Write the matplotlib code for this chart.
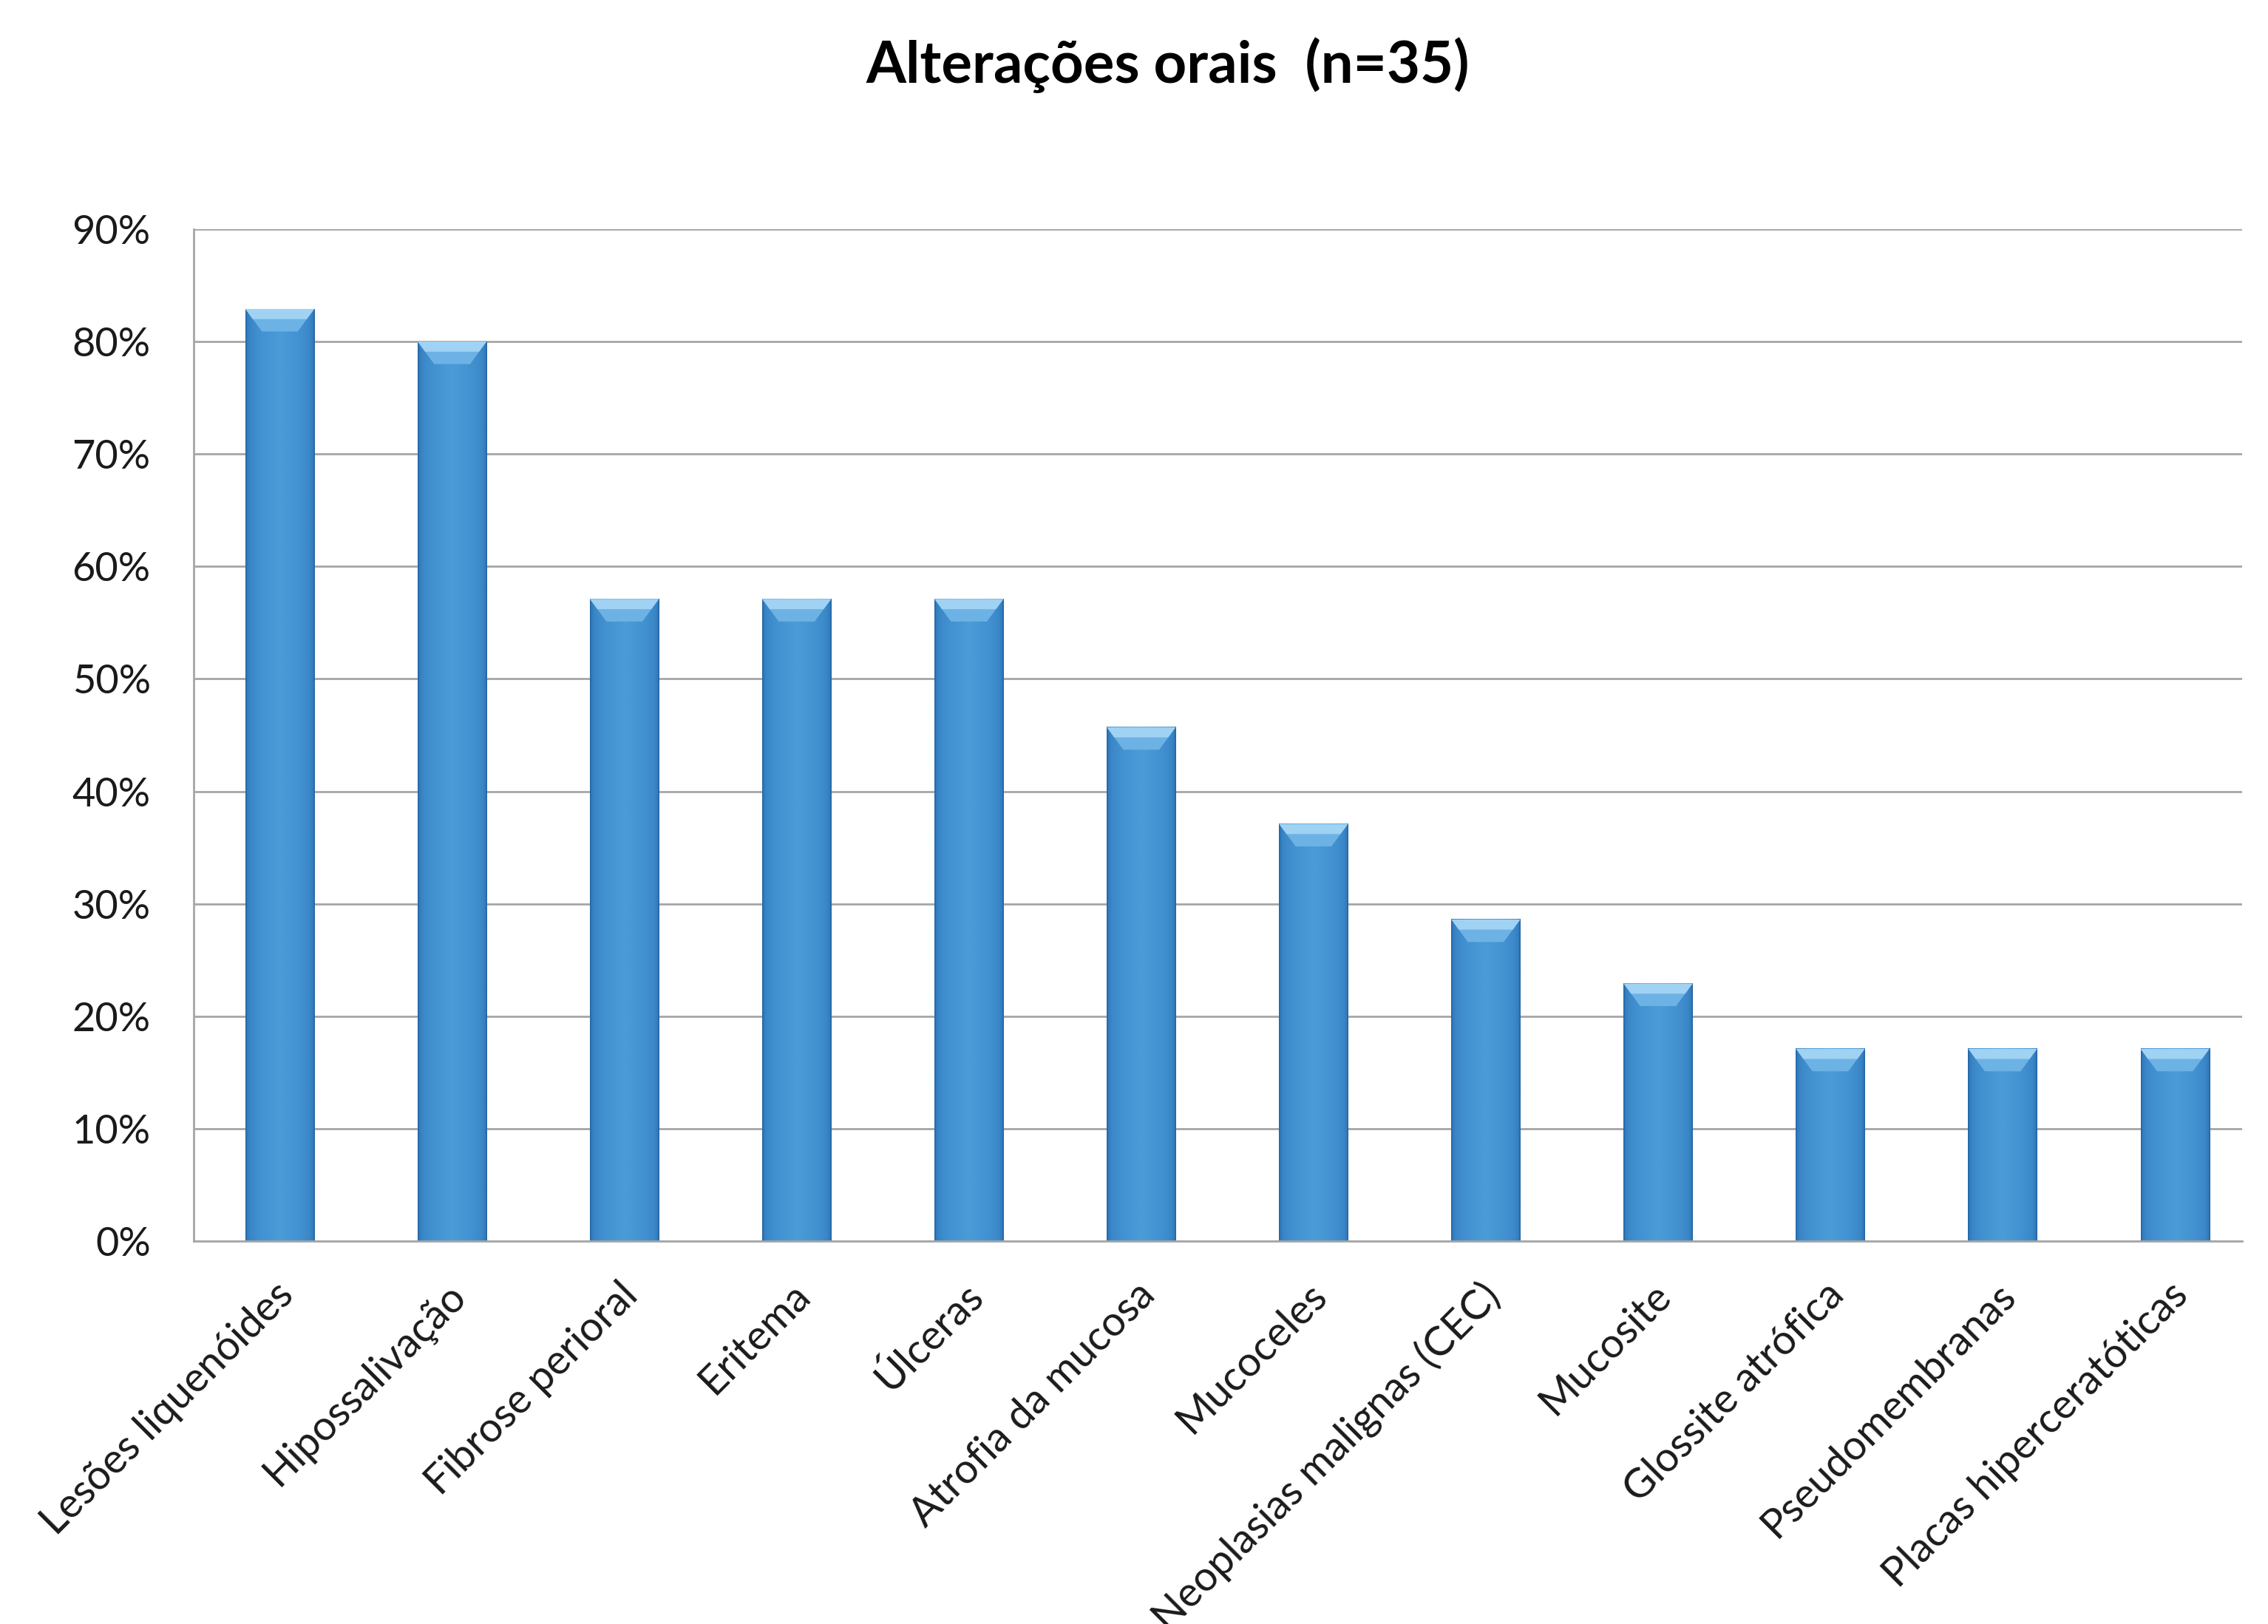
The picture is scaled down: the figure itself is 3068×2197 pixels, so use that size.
import matplotlib
matplotlib.use("Agg")
import matplotlib.pyplot as plt
import matplotlib.transforms as mtransforms
from matplotlib.patches import Polygon
from matplotlib.ticker import FuncFormatter, MultipleLocator
import numpy as np

plt.rcParams['font.family'] = ['Lato', 'DejaVu Sans']

title = "Alterações orais  (n=35)"
categories = ["Lesões liquenóides", "Hipossalivação", "Fibrose perioral", "Eritema",
              "Úlceras", "Atrofia da mucosa", "Mucoceles", "Neoplasias malignas (CEC)",
              "Mucosite", "Glossite atrófica", "Pseudomembranas", "Placas hiperceratóticas"]
# share of patients (n=35)
values = [0.829, 0.800, 0.571, 0.571, 0.571, 0.457, 0.371, 0.286, 0.229, 0.171, 0.171, 0.171]

fig = plt.figure(figsize=(30.68, 21.97), dpi=100)
ax = fig.add_axes([0.0854, 0.2358, 0.9032, 0.6231])

x = np.arange(len(categories))
bars = ax.bar(x, values, width=0.4, color='#3f8fd0', zorder=2)

# horizontal shading + bevelled top, like the office chart style
grad = np.concatenate([np.linspace(0, 1, 30), np.linspace(1, 0, 30)])
cmap = matplotlib.colors.LinearSegmentedColormap.from_list(
    "barshade", ['#2566a6', '#3a87c8', '#4a9bd8'])
for b in bars:
    x0, w, h = b.get_x(), b.get_width(), b.get_height()
    b.set_facecolor('none')
    ax.imshow(grad[np.newaxis, :] ** 0.35, cmap=cmap, aspect='auto',
              extent=(x0, x0 + w, 0, h), zorder=2, interpolation='bilinear')
    bh = 0.02
    inset = w * 0.24
    bevel = Polygon([(x0, h), (x0 + w, h), (x0 + w - inset, h - bh), (x0 + inset, h - bh)],
                    closed=True, facecolor='#6db2e4', edgecolor='none', zorder=3)
    ax.add_patch(bevel)
    top = Polygon([(x0, h), (x0 + w, h), (x0 + w - inset * 0.45, h - bh * 0.45),
                   (x0 + inset * 0.45, h - bh * 0.45)],
                  closed=True, facecolor='#9fd2f3', edgecolor='none', zorder=3)
    ax.add_patch(top)

ax.set_xlim(-0.5, 11.39)
ax.set_ylim(0, 0.9)
ax.yaxis.set_major_locator(MultipleLocator(0.1))
ax.yaxis.set_major_formatter(FuncFormatter(lambda v, p: f"{v * 100:.0f}%"))
ax.grid(axis='y', color='#a6a6a6', linewidth=2.0, zorder=0)
ax.set_axisbelow(True)

for s in ['top', 'right']:
    ax.spines[s].set_visible(False)
for s in ['left', 'bottom']:
    ax.spines[s].set_color('#a6a6a6')
    ax.spines[s].set_linewidth(2.0)

ax.tick_params(axis='y', length=0, pad=42, labelsize=39, labelcolor='#1a1a1a')
ax.tick_params(axis='x', length=0, pad=34, labelsize=40, labelcolor='#1a1a1a')
ax.set_xticks(x)
ax.set_xticklabels(categories, rotation=45, ha='right', va='top', rotation_mode='anchor')
offset = mtransforms.ScaledTranslation(-8 / 100, 0, fig.dpi_scale_trans)
for lab in ax.get_xticklabels():
    lab.set_transform(lab.get_transform() + offset)

fig.text(0.515, 0.96, title, ha='center', va='center', fontsize=56, fontweight='bold')

fig.savefig("out.png", dpi=100, facecolor='white')
